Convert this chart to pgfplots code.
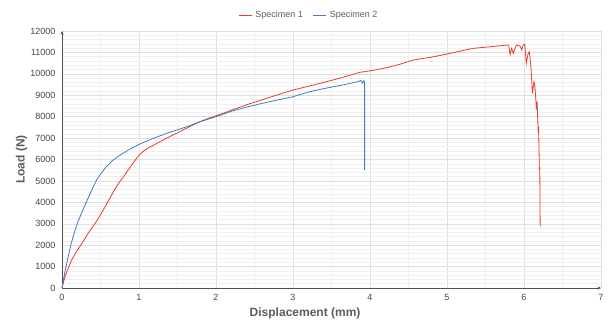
\documentclass[border=0pt]{standalone}
\usepackage{pgfplots}
\pgfplotsset{compat=1.18}
\usetikzlibrary{arrows.meta}
\usepackage{fontspec}
\setmainfont{Liberation Sans}
\definecolor{specred}{RGB}{236,58,46}
\definecolor{specblue}{RGB}{62,124,196}
\definecolor{labgray}{RGB}{92,92,92}
\definecolor{tickgray}{RGB}{70,70,70}
\definecolor{majgrid}{RGB}{222,222,222}
\definecolor{mingrid}{RGB}{240,240,240}
\definecolor{axgray}{RGB}{80,80,80}

\begin{document}
\begin{tikzpicture}
\begin{axis}[
  scale only axis,
  width=539pt, height=257pt,
  xmin=0, xmax=7, ymin=0, ymax=12000,
  xtick={0,1,...,7},
  ytick={0,1000,...,12000},
  scaled y ticks=false,
  minor x tick num=1,
  minor y tick num=4,
  grid=both,
  major grid style={majgrid, line width=0.5pt},
  minor grid style={mingrid, line width=0.5pt},
  axis lines=left,
  axis line style={axgray, line width=0.6pt, -{Stealth[length=3.5pt,width=3pt]}},
  major tick length=0pt, minor tick length=0pt,
  /pgf/number format/assume math mode=true,
  /pgf/number format/1000 sep={},
  tick label style={font=\fontsize{9}{10}\selectfont, text=tickgray},
  yticklabel style={xshift=-3pt},
  xticklabel style={yshift=-3pt},
  xlabel={Displacement (mm)},
  ylabel={Load (N)},
  label style={font=\fontsize{12}{14}\selectfont\bfseries, text=labgray},
  xlabel style={at={(axis description cs:0.451,-0.097)}, anchor=center},
  ylabel style={at={(axis description cs:-0.075,0.5)}, anchor=center},
  legend columns=2,
  legend style={draw=none, fill=none, at={(axis description cs:0.458,1.062)}, anchor=center,
    font=\fontsize{9}{10}\selectfont, text=labgray,
    /tikz/every odd column/.append style={column sep=1pt},
    /tikz/every even column/.append style={column sep=8pt}},
  legend image code/.code={\draw[#1, line width=1pt] (0pt,0pt) -- (13pt,0pt);},
  clip=false,
]
% Specimen 1
\addplot[color=specred, line width=0.8pt] coordinates {
(0,0) (0.02,280) (0.04,530) (0.08,920) (0.125,1307) (0.19,1720) (0.26,2085)
(0.34,2560) (0.43,3020) (0.50,3420) (0.56,3795) (0.62,4180) (0.68,4575)
(0.75,4960) (0.81,5250) (0.86,5509) (0.92,5820) (0.97,6060) (1.01,6230)
(1.06,6400) (1.12,6540) (1.20,6690) (1.27,6830) (1.40,7070) (1.53,7297)
(1.66,7540) (1.79,7764) (1.90,7920) (2.03,8077) (2.20,8300) (2.40,8560)
(2.60,8790) (2.80,9020) (3.00,9244) (3.20,9420) (3.40,9600) (3.60,9790)
(3.87,10070) (4.05,10170) (4.22,10290) (4.40,10460) (4.56,10644) (4.80,10780)
(5.00,10924) (5.17,11060) (5.34,11190) (5.55,11260) (5.78,11344)
(5.80,11344) (5.82,10900) (5.84,11190) (5.86,10960) (5.90,11340)
(5.95,11300) (5.97,11110) (5.99,11340) (6.01,11390) (6.03,10490) (6.05,10900)
(6.07,11030) (6.09,10330) (6.11,9090) (6.13,9630) (6.14,9500) (6.16,8460)
(6.17,8700) (6.185,7220) (6.19,7530) (6.20,5510) (6.205,5660) (6.21,2860)
};
\addlegendentry{Specimen 1}
% Specimen 2
\addplot[color=specblue, line width=0.8pt] coordinates {
(0,0) (0.02,400) (0.04,780) (0.08,1462) (0.12,2080) (0.17,2708) (0.21,3120)
(0.26,3550) (0.30,3880) (0.34,4200) (0.40,4680) (0.45,5042) (0.50,5310)
(0.56,5600) (0.65,5930) (0.75,6200) (0.88,6480) (1.01,6720) (1.18,6980)
(1.36,7222) (1.62,7530) (1.79,7760) (2.00,8000) (2.20,8250) (2.40,8450)
(2.60,8620) (2.80,8780) (3.00,8930) (3.20,9150) (3.31,9244) (3.50,9380)
(3.70,9520) (3.85,9640) (3.88,9700) (3.90,9560) (3.92,9680) (3.93,9600)
(3.93,5500)
};
\addlegendentry{Specimen 2}
\end{axis}
\pgfresetboundingbox
\path[use as bounding box] (-62pt,-36pt) rectangle (553pt,288pt);
\end{tikzpicture}
\end{document}
